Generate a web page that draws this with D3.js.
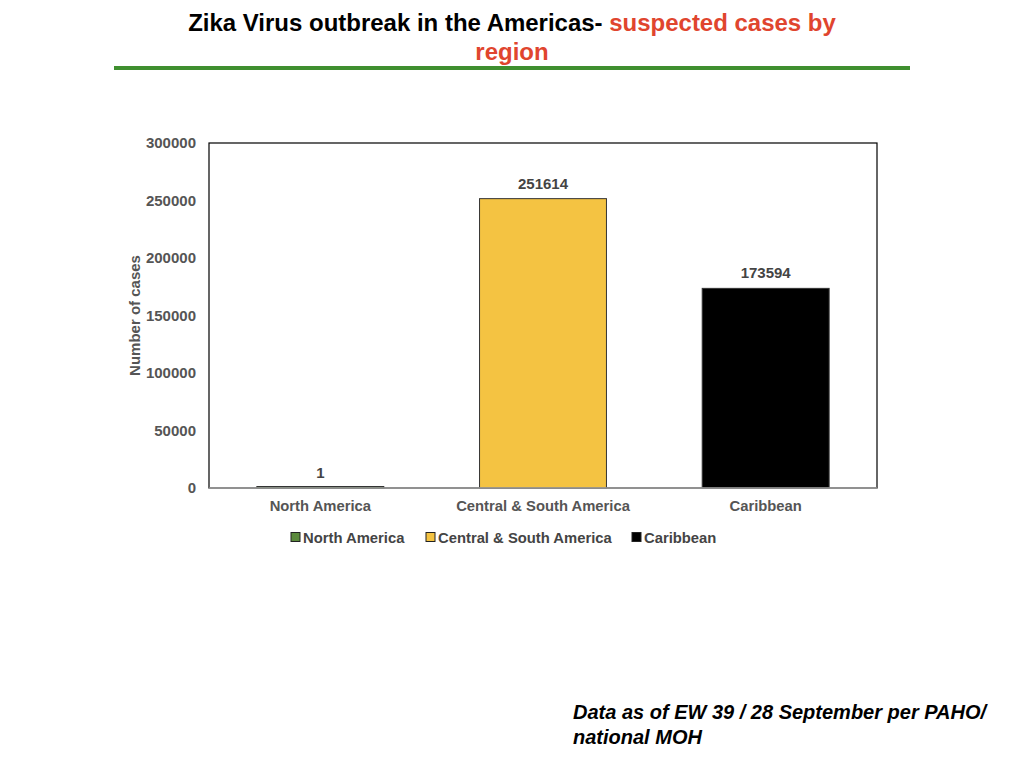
<!DOCTYPE html>
<html>
<head>
<meta charset="utf-8">
<script src="https://cdn.jsdelivr.net/npm/d3@7/dist/d3.min.js"></script>
<style>
  html, body { margin: 0; padding: 0; background: #fff; }
  svg { display: block; }
</style>
</head>
<body>
<svg id="chart" width="1024" height="768"></svg>
<script>
const categories = ["North America", "Central & South America", "Caribbean"];
const values = [1, 251614, 173594];
const colors = ["#5b8a3c", "#f4c342", "#000000"];
const yTicks = [0, 50000, 100000, 150000, 200000, 250000, 300000];

const svg = d3.select("#chart");
const margin = { left: 209, right: 877, top: 143, bottom: 488 };
const titleFont = "'Liberation Sans', Arial, sans-serif";
const labelFont = "'Liberation Sans', Arial, sans-serif";

// Title (condensed look via horizontal scale)
const t1 = svg.append("text")
  .attr("text-anchor", "middle")
  .style("font-family", titleFont)
  .style("font-weight", "bold")
  .style("font-size", "24px");
t1.append("tspan").attr("fill", "#000").text("Zika Virus outbreak in the Americas- ");
t1.append("tspan").attr("fill", "#e0452e").text("suspected cases by");
const w1 = t1.node().getComputedTextLength();
const sx = 648 / w1;
t1.attr("transform", `translate(512,31) scale(${sx},1)`);
svg.append("text")
  .attr("transform", `translate(512,60) scale(${sx},1)`)
  .attr("text-anchor", "middle")
  .attr("fill", "#e0452e")
  .style("font-family", titleFont)
  .style("font-weight", "bold")
  .style("font-size", "24px")
  .text("region");

svg.append("rect")
  .attr("x", 114).attr("y", 66).attr("width", 796).attr("height", 4)
  .attr("fill", "#3f8f2f");

const x = d3.scaleBand().domain(categories).range([margin.left, margin.right]).paddingInner(0.43).paddingOuter(0.215);
const y = d3.scaleLinear().domain([0, 300000]).range([margin.bottom, margin.top]);

// Frame
svg.append("rect")
  .attr("x", margin.left).attr("y", margin.top)
  .attr("width", margin.right - margin.left).attr("height", margin.bottom - margin.top)
  .attr("fill", "none").attr("stroke", "#000").attr("stroke-width", 1.2);

// Bars
svg.selectAll("rect.bar").data(categories).enter().append("rect")
  .attr("class", "bar")
  .attr("x", d => x(d))
  .attr("width", x.bandwidth())
  .attr("y", (d, i) => Math.min(y(values[i]), margin.bottom - 1.5))
  .attr("height", (d, i) => Math.max(margin.bottom - y(values[i]), 1.5))
  .attr("fill", (d, i) => colors[i])
  .attr("stroke", "#333")
  .attr("stroke-width", 1);

// Bottom axis line (gray)
svg.append("line")
  .attr("x1", margin.left).attr("x2", margin.right)
  .attr("y1", margin.bottom).attr("y2", margin.bottom)
  .attr("stroke", "#a0a0a0").attr("stroke-width", 1.5);

// Y axis
const yAxis = svg.append("g")
  .attr("transform", `translate(${margin.left},0)`)
  .call(d3.axisLeft(y).tickValues(yTicks).tickSize(0).tickPadding(13).tickFormat(d3.format("d")));
yAxis.select(".domain").remove();
yAxis.selectAll("text")
  .attr("fill", "#555")
  .style("font-family", labelFont)
  .style("font-weight", "bold")
  .style("font-size", "15px");

// X axis
const xAxis = svg.append("g")
  .attr("transform", `translate(0,${margin.bottom})`)
  .call(d3.axisBottom(x).tickSize(0).tickPadding(12));
xAxis.select(".domain").remove();
xAxis.selectAll("text")
  .attr("fill", "#555")
  .style("font-family", labelFont)
  .style("font-weight", "bold")
  .style("font-size", "14.8px");

// Y axis title
svg.append("text")
  .attr("transform", `translate(140,${(margin.top + margin.bottom) / 2}) rotate(-90)`)
  .attr("text-anchor", "middle")
  .attr("fill", "#555")
  .style("font-family", labelFont)
  .style("font-weight", "bold")
  .style("font-size", "15px")
  .text("Number of cases");

// Data labels
svg.selectAll("text.dl").data(categories).enter().append("text")
  .attr("class", "dl")
  .attr("x", d => x(d) + x.bandwidth() / 2)
  .attr("y", (d, i) => y(values[i]) - 10)
  .attr("text-anchor", "middle")
  .attr("fill", "#444")
  .style("font-family", labelFont)
  .style("font-weight", "bold")
  .style("font-size", "15px")
  .text((d, i) => values[i]);

// Legend
const legendX = [291, 426, 632];
const lg = svg.selectAll("g.lg").data(categories).enter().append("g")
  .attr("class", "lg")
  .attr("transform", (d, i) => `translate(${legendX[i]},537)`);
lg.append("rect")
  .attr("x", 0).attr("y", -4.5).attr("width", 9).attr("height", 9)
  .attr("fill", (d, i) => colors[i]).attr("stroke", "#222").attr("stroke-width", 1);
lg.append("text")
  .attr("x", 12).attr("y", 5.5)
  .attr("fill", "#444")
  .style("font-family", labelFont)
  .style("font-weight", "bold")
  .style("font-size", "14.8px")
  .text(d => d);

// Footnote
const fn = svg.append("text")
  .attr("fill", "#000")
  .style("font-family", labelFont)
  .style("font-weight", "bold")
  .style("font-style", "italic")
  .style("font-size", "20px");
fn.append("tspan").attr("x", 573).attr("y", 719).text("Data as of EW 39 / 28 September per PAHO/");
fn.append("tspan").attr("x", 573).attr("y", 744).text("national MOH");
</script>
</body>
</html>
